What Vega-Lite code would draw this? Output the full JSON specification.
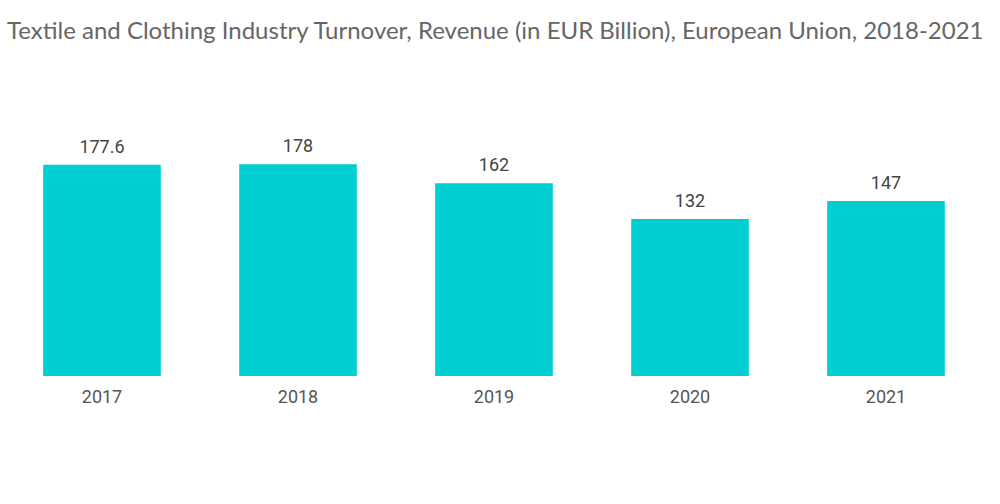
{
  "$schema": "https://vega.github.io/schema/vega-lite/v6.json",
  "autosize": "none",
  "padding": {"left": 4, "top": 138, "right": 16, "bottom": 128},
  "width": 980,
  "height": 238,
  "background": "white",
  "title": {
    "text": "Textile and Clothing Industry Turnover, Revenue (in EUR Billion), European Union, 2018-2021",
    "anchor": "start",
    "frame": "group",
    "dx": 3,
    "offset": 94,
    "font": "Lato",
    "fontSize": 24,
    "fontWeight": "normal",
    "color": "#666666"
  },
  "data": {
    "values": [
      {"year": "2017", "revenue": 177.6, "label": "177.6"},
      {"year": "2018", "revenue": 178, "label": "178"},
      {"year": "2019", "revenue": 162, "label": "162"},
      {"year": "2020", "revenue": 132, "label": "132"},
      {"year": "2021", "revenue": 147, "label": "147"}
    ]
  },
  "encoding": {
    "x": {
      "field": "year",
      "type": "nominal",
      "scale": {"paddingInner": 0.4, "paddingOuter": 0.2},
      "axis": {
        "title": null,
        "labelAngle": 0,
        "ticks": false,
        "domain": false,
        "labelPadding": 12,
        "labelFont": "Roboto",
        "labelFontSize": 18,
        "labelColor": "#555555"
      }
    },
    "y": {
      "field": "revenue",
      "type": "quantitative",
      "scale": {"domain": [0, 200]},
      "axis": null
    }
  },
  "layer": [
    {"mark": {"type": "bar", "color": "#00CED1"}},
    {
      "mark": {
        "type": "text",
        "baseline": "bottom",
        "dy": -8,
        "font": "Roboto",
        "fontSize": 18,
        "color": "#444444"
      },
      "encoding": {"text": {"field": "label"}}
    }
  ],
  "config": {
    "view": {"stroke": null},
    "axis": {"grid": false}
  }
}
